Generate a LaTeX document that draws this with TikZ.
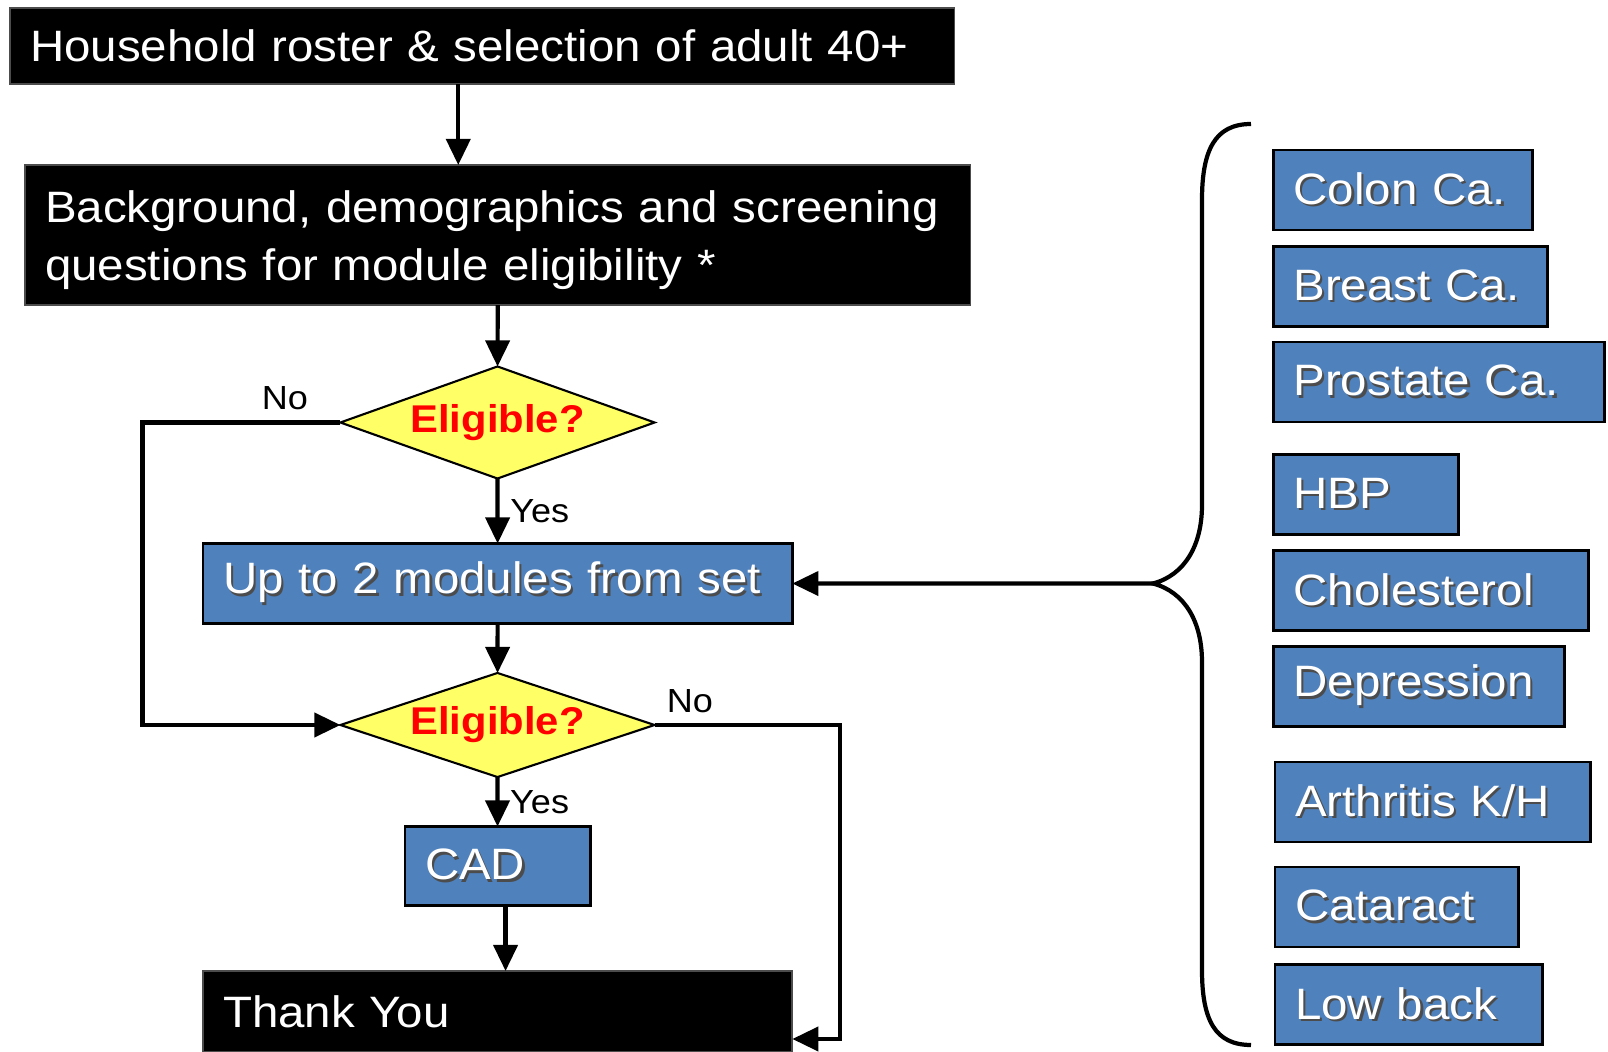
\documentclass[tikz,border=0pt]{standalone}
\usepackage{fontspec}
\setmainfont[FakeStretch=1.08]{Liberation Sans}
\usepackage{tikz}
\usetikzlibrary{arrows.meta, shapes.geometric}

\definecolor{modblue}{HTML}{4F81BD}
\definecolor{diayellow}{HTML}{FFFF66}

% white text with a dark drop shadow
\newcommand{\shad}[1]{\leavevmode\rlap{\kern0.7pt\raisebox{-0.7pt}{\color{black!70}#1}}#1}

\begin{document}
\begin{tikzpicture}[x=0.01cm, y=-0.01cm,
    >={Triangle[length=7.4pt, width=6.8pt]},
    arr/.style={->, line width=1.2pt},
    lbl/.style={font=\fontsize{9.5}{11}\selectfont, inner sep=3pt},
    blackbox/.style={anchor=north west, fill=black, draw=black!70, line width=0.5pt,
        text=white, font=\fontsize{12.5}{16.3}\selectfont, align=left,
        inner xsep=0.2cm, inner ysep=0pt, outer sep=0pt},
    modbox/.style={anchor=north west, fill=modblue, draw=black, line width=0.8pt,
        text=white, font=\fontsize{12.5}{15}\selectfont, align=left,
        inner xsep=0.2cm, inner ysep=0pt, outer sep=0pt, minimum height=0.8cm},
    decision/.style={diamond, aspect=2.8, draw=black, line width=0.6pt, fill=diayellow,
        text=red, font=\bfseries\fontsize{11}{13}\selectfont, inner sep=0pt,
        outer sep=0pt, minimum width=3.14cm},
    curlybr/.style={line width=1.2pt}]

    \useasboundingbox (0,0) rectangle (1608,1052);

    % main flow
    \node[blackbox, text width=9.04cm, minimum height=0.76cm] (roster) at (10,8)
        {Household roster \& selection of adult 40+};
    \node[blackbox, text width=9.05cm, minimum height=1.4cm] (background) at (25,165)
        {\rule{0pt}{0.42cm}Background, demographics and screening\\questions for module eligibility *};
    \node[decision, minimum height=1.12cm] (elig1) at (497.5,422.5) {Eligible?};
    \node[modbox, text width=5.49cm] (modules) at (203,543.5) {\shad{Up to 2 modules from set}};
    \node[decision, minimum height=1.04cm] (elig2) at (497.5,725) {Eligible?};
    \node[modbox, text width=1.45cm, minimum height=0.79cm] (cad) at (405,826.5) {\shad{CAD}};
    \node[blackbox, text width=5.49cm, minimum height=0.81cm] (thanks) at (203,971) {Thank You};

    % module set
    \begin{scope}[every node/.style={modbox}]
        \node[text width=2.185cm] (colon) at (1273.5,150) {\shad{Colon Ca.}};
        \node[text width=2.335cm] (breast) at (1273.5,246.5) {\shad{Breast Ca.}};
        \node[text width=2.905cm] (prostate) at (1273.5,342) {\shad{Prostate Ca.}};
        \node[text width=1.45cm] (hbp) at (1273.5,454.5) {\shad{HBP}};
        \node[text width=2.745cm] (chol) at (1273.5,550.5) {\shad{Cholesterol}};
        \node[text width=2.505cm] (depr) at (1273.5,646.5) {\shad{Depression}};
        \node[text width=2.755cm] (arthr) at (1275,762) {\shad{Arthritis K/H}};
        \node[text width=2.03cm] (catar) at (1275,867) {\shad{Cataract}};
        \node[text width=2.275cm] (lowback) at (1275,964.5) {\shad{Low back}};
    \end{scope}

    \coordinate (lbend) at (142.5,422.5);
    \coordinate (rbend) at (840,725);
    \coordinate (rbot) at (840,1039);
    \coordinate (btop) at (1251,124);
    \coordinate (btip) at (1153,583.5);
    \coordinate (bbot) at (1251,1045);

    % connectors
    \draw[arr] ([xshift=-0.24cm]roster.south) -- ([xshift=-0.24cm]roster.south |- background.north);
    \draw[arr] (background) -- (elig1);
    \draw[arr] (elig1) -- node[lbl, right] {Yes} (modules);
    \draw[arr] (modules) -- (elig2);
    \draw[arr] (elig2) -- node[lbl, right] {Yes} (cad);
    \draw[arr] ([xshift=0.08cm]cad.south) -- ([xshift=0.08cm]cad.south |- thanks.north);
    \draw[arr] (elig1.west) -- node[lbl, above, pos=0.28] {No} (lbend) |- (elig2.west);
    \draw[arr] (elig2.east) -- node[lbl, above, pos=0.19] {No} (rbend) -- (rbot) -- (rbot -| thanks.east);

    % brace round the module set
    \draw[curlybr] (btop) .. controls (1215,124) and (1202,150) .. (1202,200)
        -- (1202,505) .. controls (1202,545) and (1185,575) .. (btip)
        .. controls (1185,592) and (1202,622) .. (1202,662)
        -- (1202,970) .. controls (1202,1020) and (1215,1045) .. (bbot);
    \draw[arr] (btip) -- (modules.east);
\end{tikzpicture}
\end{document}
